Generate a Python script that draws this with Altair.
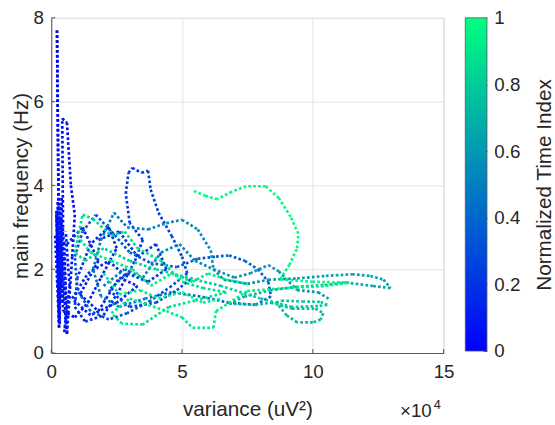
import altair as alt
import pandas as pd

# ---- trajectory waypoints (x in units of 1e4 uV^2, y in Hz, t normalized time) ----
X_A = [0.35, 0.25, 0.30, 0.20, 0.32, 0.22, 0.30, 0.40, 0.30, 0.45, 0.42, 0.60, 0.75, 0.90, 0.80, 0.60, 0.50, 0.30, 0.45]
Y_A = [1.2, 3.6, 0.9, 3.3, 0.7, 7.7, 2.0, 3.7, 0.8, 3.0, 5.6, 5.5, 4.0, 3.3, 2.3, 0.45, 2.6, 3.5, 1.0]
T_A = [0.00, 0.005, 0.01, 0.015, 0.02, 0.025, 0.03, 0.035, 0.04, 0.045, 0.05, 0.055, 0.06, 0.065, 0.07, 0.075, 0.08, 0.09, 0.10]

X_A2 = [0.15, 0.30, 0.20, 0.45, 0.35, 0.55, 0.50, 0.25, 0.40, 0.60, 0.50, 0.70, 0.55]
Y_A2 = [2.8, 0.6, 3.4, 1.2, 3.2, 0.8, 2.4, 1.6, 3.0, 1.0, 0.5, 1.6, 2.9]
T_A2 = [0.06, 0.065, 0.07, 0.075, 0.08, 0.085, 0.09, 0.095, 0.10, 0.105, 0.11, 0.115, 0.12]

X_B = [0.45, 0.9, 1.4, 1.9, 2.5, 2.2, 1.5, 1.0, 0.9, 1.3, 2.0, 2.6, 3.2, 3.5, 3.0]
Y_B = [1.0, 0.85, 1.2, 1.8, 2.5, 3.0, 2.6, 1.8, 1.1, 0.75, 0.9, 1.5, 2.2, 2.7, 3.1]
T_B = [0.10, 0.11, 0.12, 0.13, 0.14, 0.15, 0.16, 0.17, 0.18, 0.19, 0.20, 0.205, 0.21, 0.215, 0.22]

X_B2 = [0.6, 1.2, 1.8, 1.1, 1.8, 2.6, 3.3, 2.5, 1.5, 0.8, 1.4, 2.2, 2.9]
Y_B2 = [2.6, 3.0, 2.2, 1.4, 1.0, 1.8, 1.6, 1.2, 0.9, 1.3, 1.9, 2.2, 1.8]
T_B2 = [0.12, 0.125, 0.13, 0.135, 0.14, 0.145, 0.15, 0.155, 0.16, 0.165, 0.17, 0.175, 0.18]

X_B3 = [1.8, 2.6, 3.3, 4.0, 4.4, 3.7, 2.9, 2.2, 3.0, 4.0, 4.8, 5.4]
Y_B3 = [2.7, 2.9, 2.3, 2.6, 2.0, 1.7, 1.9, 1.5, 1.1, 1.2, 1.5, 1.8]
T_B3 = [0.20, 0.21, 0.22, 0.23, 0.24, 0.25, 0.26, 0.27, 0.28, 0.29, 0.30, 0.31]

X_C = [3.0, 2.85, 2.95, 3.1, 3.45, 3.7, 3.8, 4.1, 4.6, 5.0, 5.2]
Y_C = [3.1, 3.8, 4.3, 4.42, 4.3, 4.35, 3.9, 3.35, 2.8, 2.3, 1.9]
T_C = [0.22, 0.23, 0.235, 0.24, 0.245, 0.25, 0.26, 0.27, 0.28, 0.29, 0.30]

X_D = [5.2, 4.6, 3.8, 2.9, 2.2, 1.5, 1.0, 0.9, 1.2, 1.7, 2.3, 3.0, 3.8, 4.8, 5.6, 6.3, 6.8, 7.4, 7.9, 8.3, 8.4]
Y_D = [1.9, 1.6, 1.25, 0.95, 0.8, 1.0, 1.5, 2.3, 2.9, 3.3, 2.9, 2.4, 2.15, 2.05, 2.25, 2.3, 2.33, 2.2, 2.0, 1.7, 1.35]
T_D = [0.30, 0.305, 0.31, 0.315, 0.32, 0.325, 0.33, 0.335, 0.34, 0.345, 0.35, 0.355, 0.36, 0.365, 0.37, 0.375, 0.38, 0.385, 0.39, 0.395, 0.40]

X_E = [8.4, 7.8, 6.8, 5.7, 4.6, 3.6, 2.6, 1.9, 1.6, 1.9, 2.4, 2.9, 3.7, 4.4, 5.0, 5.6, 6.1, 6.2, 6.6]
Y_E = [1.35, 1.15, 1.2, 1.35, 1.45, 1.3, 1.1, 1.35, 2.0, 2.7, 3.35, 3.0, 2.95, 3.1, 3.18, 2.95, 2.45, 2.0, 1.75]
T_E = [0.40, 0.41, 0.42, 0.43, 0.44, 0.45, 0.46, 0.47, 0.48, 0.49, 0.50, 0.51, 0.52, 0.53, 0.54, 0.55, 0.56, 0.57, 0.58]

X_E2 = [2.0, 2.8, 3.5, 4.2, 4.9, 5.5, 6.2, 7.0, 7.6, 8.3, 8.7, 9.4, 10.2, 10.6]
Y_E2 = [1.6, 2.0, 1.8, 2.4, 2.6, 2.2, 2.0, 1.8, 1.9, 2.1, 1.95, 1.5, 1.45, 1.3]
T_E2 = [0.50, 0.51, 0.52, 0.53, 0.54, 0.55, 0.56, 0.57, 0.58, 0.59, 0.60, 0.61, 0.62, 0.63]

X_F = [6.6, 7.5, 8.3, 9.4, 10.5, 11.5, 12.2, 12.7, 12.97, 12.3, 11.3, 10.4, 9.4, 8.4, 7.4, 6.8, 7.8, 8.4,
       9.2, 10.1, 10.4, 10.3, 10.0, 9.4, 9.0, 8.6, 8.8, 9.6, 10.3, 10.55, 10.2, 9.2]
Y_F = [1.75, 1.65, 1.75, 1.78, 1.84, 1.88, 1.84, 1.75, 1.55, 1.6, 1.68, 1.62, 1.58, 1.5, 1.35, 1.18, 1.15, 1.2,
       1.06, 1.06, 0.95, 0.8, 0.73, 0.73, 0.9, 1.2, 1.25, 1.23, 1.22, 1.15, 1.12, 1.1]
T_F = [0.58, 0.59, 0.60, 0.61, 0.62, 0.63, 0.64, 0.65, 0.66, 0.67, 0.68, 0.69, 0.70, 0.705, 0.71, 0.715, 0.72, 0.725,
       0.73, 0.735, 0.74, 0.745, 0.75, 0.755, 0.76, 0.765, 0.77, 0.775, 0.78, 0.785, 0.79, 0.795]

X_G = [9.2, 8.0, 6.5, 5.2, 4.0, 3.0, 2.0, 1.3, 0.9, 1.2, 1.6, 2.3, 2.8, 3.3, 4.2, 5.0, 5.8, 6.7]
Y_G = [1.1, 1.3, 1.6, 1.8, 2.0, 2.2, 2.5, 2.2, 2.4, 3.3, 3.2, 2.8, 2.9, 2.5, 2.2, 1.7, 1.55, 1.45]
T_G = [0.80, 0.805, 0.81, 0.815, 0.82, 0.825, 0.83, 0.835, 0.84, 0.845, 0.85, 0.855, 0.86, 0.865, 0.87, 0.875, 0.88, 0.885]

X_G2 = [1.0, 1.5, 2.3, 3.1, 3.8, 4.6, 5.4, 6.0, 6.7, 7.5]
Y_G2 = [2.8, 2.4, 2.2, 2.0, 1.6, 1.9, 1.7, 1.9, 1.75, 1.65]
T_G2 = [0.90, 0.905, 0.91, 0.915, 0.92, 0.925, 0.93, 0.935, 0.94, 0.945]

X_G3 = [2.0, 2.6, 3.4, 4.1, 5.0, 5.8, 6.5]
Y_G3 = [1.9, 1.4, 1.5, 1.3, 1.45, 1.2, 1.3]
T_G3 = [0.92, 0.925, 0.93, 0.935, 0.94, 0.945, 0.95]

X_H = [6.7, 5.5, 4.5, 3.5, 2.7, 2.3, 3.0, 4.4, 5.0, 5.4, 6.2, 6.3, 7.5, 9.0, 10.5, 11.4, 10.0, 8.75,
       9.1, 9.4, 9.45, 9.15, 8.7, 8.2, 7.45, 6.9, 6.35, 5.9, 5.4]
Y_H = [1.45, 1.25, 1.1, 0.68, 0.7, 0.95, 1.3, 1.0, 0.85, 0.6, 0.6, 1.0, 1.48, 1.55, 1.6, 1.68, 1.7, 1.76,
       2.1, 2.5, 2.85, 3.25, 3.7, 3.98, 3.98, 3.85, 3.67, 3.75, 3.88]
T_H = [0.885, 0.89, 0.895, 0.90, 0.905, 0.91, 0.915, 0.92, 0.925, 0.93, 0.935, 0.94, 0.945, 0.95, 0.955, 0.96, 0.965, 0.97,
       0.973, 0.976, 0.979, 0.982, 0.985, 0.988, 0.991, 0.994, 0.996, 0.998, 1.0]

PATHS = [(X_A, Y_A, T_A), (X_A2, Y_A2, T_A2), (X_B, Y_B, T_B), (X_B2, Y_B2, T_B2),
         (X_B3, Y_B3, T_B3), (X_C, Y_C, T_C), (X_D, Y_D, T_D), (X_E, Y_E, T_E),
         (X_E2, Y_E2, T_E2), (X_F, Y_F, T_F), (X_G, Y_G, T_G), (X_G2, Y_G2, T_G2),
         (X_G3, Y_G3, T_G3), (X_H, Y_H, T_H)]

X_TICKS = [0, 5, 10, 15]
Y_TICKS = [0, 2, 4, 6, 8]
CB_TICKS = [0, 0.2, 0.4, 0.6, 0.8, 1]

rows = []
for xs, ys, ts in PATHS:
    for i in range(len(xs) - 1):
        rows.append({"x": xs[i], "y": ys[i], "x2": xs[i + 1], "y2": ys[i + 1], "t": ts[i]})
seg = pd.DataFrame(rows).sort_values("t", kind="stable")

FONT = "Liberation Sans"
TXT = "#262626"
AX = "#555555"
W, H = 398, 340

xscale = alt.Scale(domain=[0, 15], nice=False, zero=False)
yscale = alt.Scale(domain=[0, 8], nice=False, zero=False)
cscale = alt.Scale(domain=[0, 1], range=["#0000ff", "#00ff80"], interpolate="rgb")

xaxis = alt.Axis(values=X_TICKS, title="variance (uV²)", grid=True, gridColor="#e3e3e3",
                 domainColor=AX, ticks=False, labelPadding=10, labelFontSize=19, labelColor=TXT,
                 labelFont=FONT, titleFont=FONT, titleFontSize=21, titleFontWeight="normal",
                 titleColor=TXT, titlePadding=17, labelFlush=False)
yaxis = alt.Axis(values=Y_TICKS, title="main frequency (Hz)", grid=True, gridColor="#e3e3e3",
                 domainColor=AX, ticks=False, labelPadding=8, labelFontSize=19, labelColor=TXT,
                 labelFont=FONT, titleFont=FONT, titleFontSize=21, titleFontWeight="normal",
                 titleColor=TXT, titlePadding=2, labelFlush=False)

lines = alt.Chart(seg).mark_rule(strokeDash=[2.7, 2.3], strokeWidth=2.7, strokeCap="butt").encode(
    x=alt.X("x:Q", scale=xscale, axis=xaxis),
    y=alt.Y("y:Q", scale=yscale, axis=yaxis),
    x2="x2:Q", y2="y2:Q",
    color=alt.Color("t:Q", scale=cscale, legend=None),
)

xt = alt.Chart(pd.DataFrame({"v": X_TICKS})).mark_rule(color=AX, strokeWidth=1).encode(
    x=alt.X("v:Q", scale=xscale), y=alt.value(H), y2=alt.value(H - 4))
yt = alt.Chart(pd.DataFrame({"v": Y_TICKS})).mark_rule(color=AX, strokeWidth=1).encode(
    y=alt.Y("v:Q", scale=yscale), x=alt.value(0), x2=alt.value(4))

one = pd.DataFrame({"k": [0]})
exp_base = alt.Chart(one).mark_text(align="right", baseline="alphabetic", font=FONT, fontSize=19,
                                    color=TXT).encode(x=alt.value(386), y=alt.value(405), text=alt.value("×10"))
exp_sup = alt.Chart(one).mark_text(align="left", baseline="alphabetic", font=FONT, fontSize=13,
                                   color=TXT).encode(x=alt.value(388), y=alt.value(397), text=alt.value("4"))

main = alt.layer(lines, xt, yt, exp_base, exp_sup).properties(width=W, height=H)

grad = alt.Gradient(gradient="linear",
                    stops=[alt.GradientStop(color="#0000ff", offset=0),
                           alt.GradientStop(color="#00ff80", offset=1)],
                    x1=0, x2=0, y1=1, y2=0)
cb = alt.Chart(pd.DataFrame({"lo": [0], "hi": [1]})).mark_rect(fill=grad, stroke=AX, strokeWidth=0.8).encode(
    y=alt.Y("lo:Q", scale=alt.Scale(domain=[0, 1], nice=False),
            axis=alt.Axis(orient="right", values=CB_TICKS, format="~g", offset=-4, tickSize=4,
                          tickColor=AX, domain=False, grid=False, labelPadding=7, labelFontSize=19,
                          labelColor=TXT, labelFont=FONT, title="Normalized Time Index",
                          titleAngle=270, titleBaseline="top", titleFont=FONT, titleFontSize=21,
                          titleFontWeight="normal", titleColor=TXT, titlePadding=14, labelFlush=False)),
    y2="hi:Q", x=alt.value(0), x2=alt.value(22),
).properties(width=22, height=338, view=alt.ViewBackground(stroke=None))

chart = alt.hconcat(main, cb, spacing=22, bounds="flush").configure_view(stroke="#cccccc").properties(
    padding={"left": 9, "top": 5, "right": 0, "bottom": 5})

chart.save("out.html", embed_options={"renderer": "svg", "actions": False})
